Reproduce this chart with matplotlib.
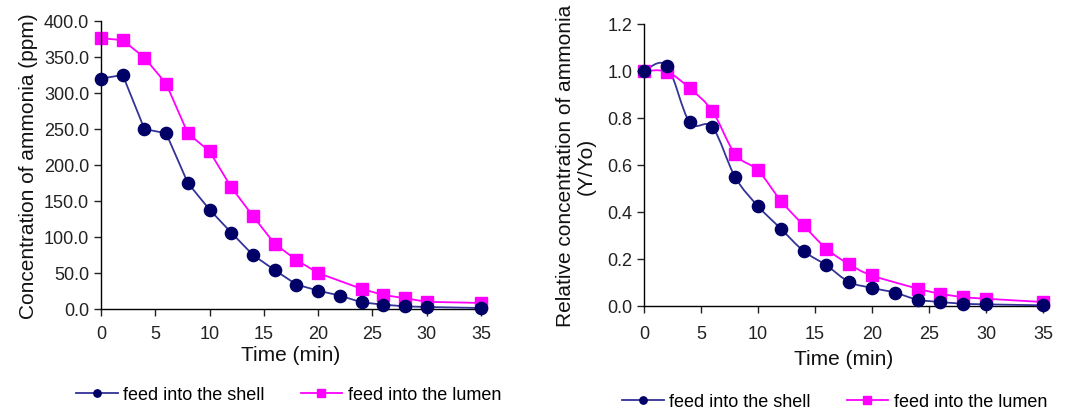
import matplotlib
matplotlib.use("Agg")
import matplotlib.pyplot as plt
import numpy as np
from matplotlib.path import Path
from matplotlib.patches import PathPatch

plt.rcParams['font.family'] = ['Liberation Sans', 'DejaVu Sans']

# ---- data ----
t_shell = [0, 2, 4, 6, 8, 10, 12, 14, 16, 18, 20, 22, 24, 26, 28, 30, 35]
t_lumen = [0, 2, 4, 6, 8, 10, 12, 14, 16, 18, 20, 24, 26, 28, 30, 35]

conc_shell = [320, 325, 250, 244, 175, 138, 106, 75, 54, 34, 25.5, 18.6, 9.3, 6, 3.7, 2.8, 1.4]
conc_lumen = [376, 373.5, 349, 313, 244, 219, 169, 129, 90.5, 68, 50, 28, 19.5, 15, 10, 8.4]

rel_shell = [1.0, 1.023, 0.782, 0.761, 0.548, 0.425, 0.329, 0.234, 0.173, 0.102, 0.077,
             0.057, 0.027, 0.017, 0.010, 0.007, 0.003]
rel_lumen = [1.0, 0.997, 0.927, 0.829, 0.646, 0.577, 0.448, 0.343, 0.244, 0.177, 0.130,
             0.074, 0.052, 0.038, 0.031, 0.017]

xticks = [0, 5, 10, 15, 20, 25, 30, 35]
label_shell = "feed into the shell"
label_lumen = "feed into the lumen"

C_SHELL_M = "#000066"
C_SHELL_L = "#333399"
C_LUMEN = "#ff00ff"

W, H = 1074, 414


def smooth_path(x, y):
    x = np.asarray(x, float); y = np.asarray(y, float)
    pts = np.column_stack([x, y])
    n = len(pts)
    verts = [pts[0]]
    codes = [Path.MOVETO]
    for i in range(n - 1):
        p0 = pts[i - 1] if i > 0 else pts[i]
        p1 = pts[i]
        p2 = pts[i + 1]
        p3 = pts[i + 2] if i + 2 < n else pts[i + 1]
        c1 = p1 + (p2 - p0) / 6.0
        c2 = p2 - (p3 - p1) / 6.0
        verts += [c1, c2, p2]
        codes += [Path.CURVE4] * 3
    return Path(verts, codes)


def ax_rect(x0, x1, ytop, ybot):
    return [x0 / W, 1 - ybot / H, (x1 - x0) / W, (ybot - ytop) / H]


fig = plt.figure(figsize=(W / 100, H / 100), dpi=100)
ax1 = fig.add_axes(ax_rect(101, 481, 22, 310))
ax2 = fig.add_axes(ax_rect(644, 1043, 25, 307))

TICK_FS = 13
LAB_FS = 15
LEG_FS = 13


def style(ax, xpad, lpad):
    for s in ['top', 'right']:
        ax.spines[s].set_visible(False)
    for s in ['left', 'bottom']:
        ax.spines[s].set_color('black')
        ax.spines[s].set_linewidth(1.0)
    ax.tick_params(direction='out', length=5, width=1, labelsize=TICK_FS, colors='#222222')
    ax.tick_params(axis='x', pad=xpad)
    ax.set_xlim(0, 35)
    ax.set_xticks(xticks)
    ax.set_xlabel("Time (min)", fontsize=LAB_FS, labelpad=lpad, color='#111111')

leg_kw = dict(ncol=2, frameon=False, fontsize=LEG_FS, markerscale=0.6, handlelength=2.3,
              handletextpad=0.3, columnspacing=2.0, borderpad=0, borderaxespad=0,
              loc='center left')

# left plot
ax1.plot(t_shell, conc_shell, color=C_SHELL_L, lw=1.3, marker='o', ms=8.8,
         mfc=C_SHELL_M, mec=C_SHELL_M, label=label_shell, clip_on=False, zorder=3)
ax1.plot(t_lumen, conc_lumen, color=C_LUMEN, lw=1.3, marker='s', ms=9,
         mfc=C_LUMEN, mec=C_LUMEN, label=label_lumen, clip_on=False, zorder=2)
style(ax1, 6.5, 2.5)
ax1.set_ylim(0, 400)
ax1.set_yticks(np.arange(0, 401, 50))
ax1.set_yticklabels([f"{v:.1f}" for v in np.arange(0, 401, 50)])
ax1.set_ylabel("Concentration of ammonia (ppm)", fontsize=LAB_FS, labelpad=4, color='#111111')
h_a, l_a = ax1.get_legend_handles_labels()
fig.legend(h_a, l_a, bbox_to_anchor=(76 / W, 1 - 396 / H), **leg_kw)

# right plot (smoothed lines)
ax2.add_patch(PathPatch(smooth_path(t_shell, rel_shell), fill=False, ec=C_SHELL_L, lw=1.3,
                        zorder=3, clip_on=False))
ax2.add_patch(PathPatch(smooth_path(t_lumen, rel_lumen), fill=False, ec=C_LUMEN, lw=1.3,
                        zorder=2, clip_on=False))
ax2.plot(t_shell, rel_shell, ls='none', marker='o', ms=8.8, mfc=C_SHELL_M, mec=C_SHELL_M,
         clip_on=False, zorder=4)
ax2.plot(t_lumen, rel_lumen, ls='none', marker='s', ms=9, mfc=C_LUMEN, mec=C_LUMEN,
         clip_on=False, zorder=3)
h1, = ax2.plot([], [], color=C_SHELL_L, lw=1.3, marker='o', ms=8.8, mfc=C_SHELL_M, mec=C_SHELL_M)
h2, = ax2.plot([], [], color=C_LUMEN, lw=1.3, marker='s', ms=9, mfc=C_LUMEN, mec=C_LUMEN)
style(ax2, 9, 5)
ax2.set_ylim(0, 1.2)
ax2.set_yticks(np.arange(0, 1.21, 0.2))
ax2.set_yticklabels([f"{v:.1f}" for v in np.arange(0, 1.21, 0.2)])
ax2.set_ylabel("Relative concentration of ammonia\n(Y/Yo)", fontsize=LAB_FS, labelpad=8,
               color='#111111', linespacing=1.1)
fig.legend([h1, h2], [label_shell, label_lumen], bbox_to_anchor=(622 / W, 1 - 403 / H), **leg_kw)

fig.savefig("out.png", dpi=100)
